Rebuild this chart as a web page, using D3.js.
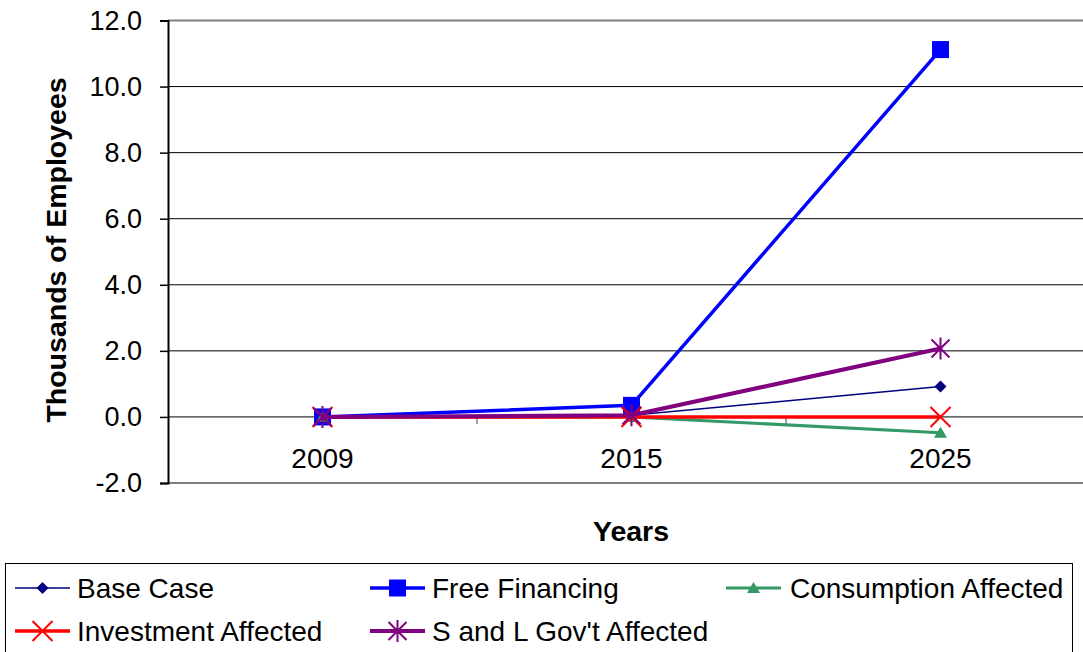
<!DOCTYPE html>
<html>
<head>
<meta charset="utf-8">
<script src="https://cdn.jsdelivr.net/npm/d3@7"></script>
<style>
  html, body { margin: 0; padding: 0; background: #fff; }
  svg { display: block; font-family: "Liberation Sans", Arial, sans-serif; }
</style>
</head>
<body>
<svg id="chart" width="1083" height="652"></svg>
<script>
// Employment impact by scenario (thousands of employees)
const years = ["2009", "2015", "2025"];
const baseCase = [0, 0.05, 0.92];
const freeFinancing = [0, 0.35, 11.12];
const consumptionAffected = [0, 0, -0.48];
const investmentAffected = [0, 0, 0];
const sAndLGovAffected = [0, 0.05, 2.07];
const yTicks = [-2, 0, 2, 4, 6, 8, 10, 12];

const series = [
  { name: "Base Case", values: baseCase, color: "#000080", width: 1.5, marker: "diamond" },
  { name: "Free Financing", values: freeFinancing, color: "#0000FF", width: 3.5, marker: "square" },
  { name: "Consumption Affected", values: consumptionAffected, color: "#339966", width: 3, marker: "triangle" },
  { name: "Investment Affected", values: investmentAffected, color: "#FF0000", width: 3.5, marker: "x" },
  { name: "S and L Gov't Affected", values: sAndLGovAffected, color: "#800080", width: 4, marker: "star" }
];

const svg = d3.select("#chart");
const plot = { left: 168, right: 1095, top: 20.5, bottom: 483 };

const x = d3.scaleBand().domain(years).range([plot.left, plot.right]);
const y = d3.scaleLinear().domain([-2, 12]).range([plot.bottom, plot.top]);

// gridlines
svg.append("g").selectAll("line")
  .data(yTicks.filter(t => t > -2 && t < 12))
  .join("line")
  .attr("x1", plot.left).attr("x2", plot.right)
  .attr("y1", d => y(d)).attr("y2", d => y(d))
  .attr("stroke", "#000").attr("stroke-width", 1);

// plot area border (top / bottom)
svg.append("line").attr("x1", plot.left).attr("x2", plot.right)
  .attr("y1", plot.top).attr("y2", plot.top).attr("stroke", "#808080").attr("stroke-width", 2);
svg.append("line").attr("x1", plot.left).attr("x2", plot.right)
  .attr("y1", plot.bottom).attr("y2", plot.bottom).attr("stroke", "#808080").attr("stroke-width", 2);

// y axis
const yAxis = d3.axisLeft(y).tickValues(yTicks).tickFormat(d3.format(".1f")).tickSize(8).tickPadding(18);
const gy = svg.append("g").attr("transform", `translate(${plot.left},0)`).call(yAxis);
gy.attr("font-size", null).attr("font-family", null);
gy.select(".domain").attr("stroke", "#000").attr("stroke-width", 2);
gy.selectAll(".tick line").attr("stroke", "#000").attr("stroke-width", 1.5);
gy.selectAll(".tick text").style("font-size", "27px").attr("fill", "#000")
  .text(d => d < 0 ? "-" + d3.format(".1f")(-d) : d3.format(".1f")(d));

// x axis at zero
const xAxis = d3.axisBottom(x).tickSize(0).tickPadding(31);
const gx = svg.append("g").attr("transform", `translate(0,${y(0)})`).call(xAxis);
gx.attr("font-size", null).attr("font-family", null);
gx.select(".domain").remove();
gx.selectAll(".tick text").style("font-size", "28px").attr("fill", "#000");
// category separators
svg.append("g").selectAll("line")
  .data(years.slice(1))
  .join("line")
  .attr("x1", d => x(d)).attr("x2", d => x(d))
  .attr("y1", y(0)).attr("y2", y(0) + 7)
  .attr("stroke", "#808080").attr("stroke-width", 1.5);

// axis titles
svg.append("text").attr("transform", `translate(66,${250}) rotate(-90)`)
  .attr("text-anchor", "middle").style("font-size", "28.5px").attr("font-weight", "bold").text("Thousands of Employees");
svg.append("text").attr("x", 631).attr("y", 541)
  .attr("text-anchor", "middle").style("font-size", "28.5px").attr("font-weight", "bold").text("Years");

// marker drawing
function drawMarker(g, type, color, cx, cy) {
  if (type === "diamond") {
    const r = 6;
    g.append("path").attr("d", `M${cx},${cy - r}L${cx + r},${cy}L${cx},${cy + r}L${cx - r},${cy}Z`)
      .attr("fill", color);
  } else if (type === "square") {
    g.append("rect").attr("x", cx - 8.5).attr("y", cy - 8.5).attr("width", 17).attr("height", 17).attr("fill", color);
  } else if (type === "triangle") {
    g.append("path").attr("d", `M${cx},${cy - 6}L${cx + 6.5},${cy + 5}L${cx - 6.5},${cy + 5}Z`)
      .attr("fill", color);
  } else if (type === "x") {
    const r = 10;
    g.append("path").attr("d", `M${cx - r},${cy - r}L${cx + r},${cy + r}M${cx - r},${cy + r}L${cx + r},${cy - r}`)
      .attr("stroke", color).attr("stroke-width", 2).attr("fill", "none");
  } else if (type === "star") {
    const r = 9;
    g.append("path").attr("d", `M${cx - r},${cy - r}L${cx + r},${cy + r}M${cx - r},${cy + r}L${cx + r},${cy - r}M${cx},${cy - r - 2}L${cx},${cy + r + 2}`)
      .attr("stroke", color).attr("stroke-width", 2).attr("fill", "none");
  }
}

const line = d3.line().x((d, i) => x(years[i]) + x.bandwidth() / 2).y(d => y(d));

// series lines and markers
series.forEach(s => {
  const g = svg.append("g");
  g.append("path").datum(s.values).attr("d", line)
    .attr("fill", "none").attr("stroke", s.color).attr("stroke-width", s.width).attr("stroke-linejoin", "round");
  s.values.forEach((v, i) => drawMarker(g, s.marker, s.color, x(years[i]) + x.bandwidth() / 2, y(v)));
});

// legend
const legend = svg.append("g");
legend.append("rect").attr("x", 5.5).attr("y", 563.5).attr("width", 1067).attr("height", 100)
  .attr("fill", "#fff").attr("stroke", "#000").attr("stroke-width", 1);
const legendPos = [[15, 588, 77], [370, 588, 432], [726, 588, 790], [15, 631, 77], [370, 631, 432]];
series.forEach((s, i) => {
  const [lx, ly, tx] = legendPos[i];
  const g = legend.append("g");
  g.append("line").attr("x1", lx).attr("x2", lx + 55).attr("y1", ly).attr("y2", ly)
    .attr("stroke", s.color).attr("stroke-width", s.width);
  drawMarker(g, s.marker, s.color, lx + 27.5, ly);
  g.append("text").attr("x", tx).attr("y", ly + 9.5).style("font-size", "28px").attr("fill", "#000").text(s.name);
});
</script>
</body>
</html>
